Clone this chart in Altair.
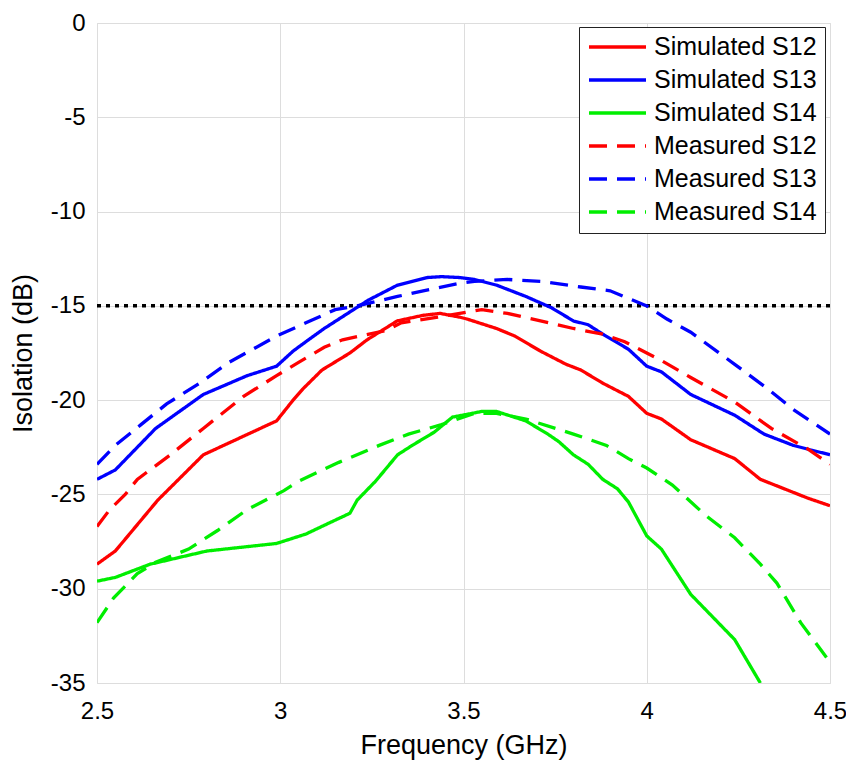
import altair as alt
import pandas as pd

# ---------------- data ----------------
sim12_f = [2.5, 2.55, 2.666, 2.79, 2.99, 3.035, 3.062, 3.114, 3.19, 3.237, 3.319, 3.39, 3.436, 3.49, 3.51,
           3.59, 3.64, 3.71, 3.78, 3.82, 3.88, 3.95, 4.0, 4.04, 4.12, 4.24, 4.31, 4.44, 4.5]
sim12_db = [-28.7, -28.0, -25.3, -22.9, -21.1, -20.0, -19.4, -18.4, -17.5, -16.8, -15.8, -15.5, -15.4, -15.6, -15.7,
            -16.2, -16.6, -17.4, -18.1, -18.4, -19.1, -19.8, -20.7, -21.0, -22.1, -23.1, -24.2, -25.2, -25.6]

sim13_f = [2.5, 2.55, 2.66, 2.79, 2.91, 2.99, 3.035, 3.07, 3.12, 3.2, 3.24, 3.32, 3.4, 3.44, 3.49, 3.53,
           3.59, 3.67, 3.74, 3.8, 3.84, 3.88, 3.95, 4.0, 4.04, 4.12, 4.24, 4.32, 4.4, 4.5]
sim13_db = [-24.2, -23.7, -21.5, -19.7, -18.7, -18.2, -17.4, -16.9, -16.2, -15.2, -14.7, -13.9, -13.5, -13.45, -13.5, -13.6,
            -13.9, -14.5, -15.1, -15.8, -16.0, -16.5, -17.3, -18.2, -18.5, -19.7, -20.8, -21.8, -22.4, -22.9]

sim14_f = [2.5, 2.55, 2.645, 2.8, 2.99, 3.07, 3.135, 3.19, 3.21, 3.26, 3.32, 3.36, 3.42, 3.47, 3.55, 3.59,
           3.67, 3.73, 3.76, 3.8, 3.84, 3.88, 3.92, 3.95, 4.0, 4.04, 4.12, 4.24, 4.31]
sim14_db = [-29.6, -29.4, -28.7, -28.0, -27.6, -27.1, -26.5, -26.0, -25.3, -24.3, -22.9, -22.4, -21.7, -20.9, -20.6, -20.6,
            -21.1, -21.8, -22.2, -22.9, -23.4, -24.2, -24.7, -25.4, -27.2, -27.9, -30.3, -32.7, -35.0]

meas12_f = [2.5, 2.535, 2.577, 2.61, 2.7, 2.79, 2.9, 2.99, 3.05, 3.12, 3.17, 3.29, 3.33, 3.43, 3.49, 3.55,
            3.62, 3.71, 3.8, 3.88, 3.94, 4.0, 4.04, 4.12, 4.24, 4.34, 4.44, 4.5]
meas12_db = [-26.7, -25.8, -25.0, -24.2, -22.9, -21.5, -19.8, -18.7, -18.0, -17.2, -16.8, -16.3, -15.9, -15.6, -15.4, -15.2,
             -15.4, -15.8, -16.2, -16.5, -16.9, -17.5, -17.9, -18.8, -20.1, -21.5, -22.6, -23.4]

meas13_f = [2.5, 2.55, 2.62, 2.69, 2.78, 2.86, 2.99, 3.07, 3.15, 3.21, 3.32, 3.39, 3.49, 3.53, 3.62, 3.71,
            3.82, 3.9, 3.95, 4.0, 4.055, 4.12, 4.24, 4.33, 4.4, 4.5]
meas13_db = [-23.4, -22.4, -21.3, -20.2, -19.1, -18.0, -16.6, -15.9, -15.2, -15.0, -14.5, -14.2, -13.8, -13.7, -13.6, -13.7,
             -14.0, -14.2, -14.6, -15.0, -15.7, -16.4, -18.1, -19.4, -20.5, -21.8]

meas14_f = [2.5, 2.545, 2.61, 2.66, 2.75, 2.83, 2.91, 2.95, 3.01, 3.05, 3.16, 3.27, 3.35, 3.44, 3.53, 3.59,
            3.67, 3.8, 3.89, 3.95, 4.0, 4.07, 4.16, 4.24, 4.31, 4.355, 4.42, 4.5]
meas14_db = [-31.8, -30.5, -29.2, -28.6, -27.9, -26.9, -25.8, -25.4, -24.8, -24.3, -23.3, -22.4, -21.8, -21.3, -20.7, -20.7,
             -21.0, -21.8, -22.4, -23.1, -23.6, -24.5, -26.1, -27.3, -28.7, -29.7, -31.8, -33.9]

series_names = ["Simulated S12", "Simulated S13", "Simulated S14",
                "Measured S12", "Measured S13", "Measured S14"]
series_colors = ["#ff0000", "#0000ff", "#00ee00", "#ff0000", "#0000ff", "#00ee00"]
series_dashes = [[1, 0], [1, 0], [1, 0], [18, 10], [18, 10], [18, 10]]

threshold = [-15]
x_ticks = [2.5, 3, 3.5, 4, 4.5]
y_ticks = [-35, -30, -25, -20, -15, -10, -5, 0]

# ---------------- build table ----------------
all_f = [sim12_f, sim13_f, sim14_f, meas12_f, meas13_f, meas14_f]
all_db = [sim12_db, sim13_db, sim14_db, meas12_db, meas13_db, meas14_db]
rows = []
for name, fs, dbs in zip(series_names, all_f, all_db):
    for i, (f, d) in enumerate(zip(fs, dbs)):
        rows.append({"series": name, "f": f, "db": d, "i": i})
df = pd.DataFrame(rows)
thr_df = pd.DataFrame({"y": threshold})

FONT = "Liberation Sans"
TXT = "#262626"
W, H = 733, 660

x_enc = alt.X("f:Q", scale=alt.Scale(domain=[2.5, 4.5], nice=False, zero=False),
              axis=alt.Axis(values=x_ticks, title="Frequency (GHz)",
                            labelExpr="'' + datum.value", labelFontSize=24,
                            labelPadding=16, labelFlush=False,
                            titleFontSize=27, titleFontWeight="normal",
                            titleX=W / 2, titleY=70, titleBaseline="alphabetic",
                            grid=True, ticks=False, domain=False))
y_enc = alt.Y("db:Q", scale=alt.Scale(domain=[-35, 0], nice=False, zero=False),
              axis=alt.Axis(values=y_ticks, title="Isolation (dB)",
                            labelExpr="'' + datum.value", labelFontSize=24,
                            labelPadding=12, labelFlush=False,
                            titleFontSize=27, titleFontWeight="normal",
                            titleX=-74, titleY=H / 2, titleAngle=-90,
                            titleAlign="center", titleBaseline="middle",
                            grid=True, ticks=False, domain=False))

lines = alt.Chart(df).mark_line(strokeWidth=3.3, clip=True, strokeCap="butt").encode(
    x=x_enc,
    y=y_enc,
    color=alt.Color("series:N",
                    scale=alt.Scale(domain=series_names, range=series_colors),
                    legend=alt.Legend(title=None, orient="none", legendX=482, legendY=4,
                                      symbolType="stroke", symbolSize=3249,
                                      symbolStrokeWidth=3.3, clipHeight=24,
                                      rowPadding=8, padding=8, labelOffset=6,
                                      labelFontSize=25, labelFont=FONT, labelColor="#000000",
                                      labelLimit=400,
                                      strokeColor="#222222", fillColor="#ffffff",
                                      symbolOffset=0)),
    strokeDash=alt.StrokeDash("series:N",
                              scale=alt.Scale(domain=series_names, range=series_dashes),
                              legend=None),
    order=alt.Order("i:Q"),
)

thr = alt.Chart(thr_df).mark_rule(color="black", strokeWidth=3.5, strokeDash=[4, 5]).encode(
    y=alt.Y("y:Q")
)

chart = alt.layer(thr, lines).properties(
    width=W, height=H,
    autosize=alt.AutoSizeParams(type="none"),
    padding={"left": 89, "top": 15, "right": 16, "bottom": 82},
).configure_view(
    stroke="#7a7a7a", strokeWidth=1.3
).configure_axis(
    labelFont=FONT, titleFont=FONT, labelColor=TXT, titleColor=TXT,
    gridColor="#e3e3e3", gridWidth=1
).configure(background="white")

chart.save("out.html", embed_options={"renderer": "svg", "actions": False})
